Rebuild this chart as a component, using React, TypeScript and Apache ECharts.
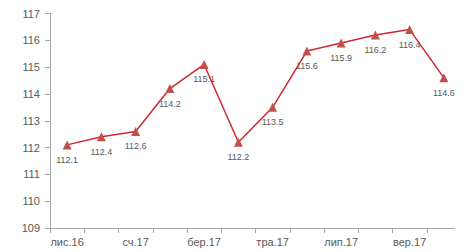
import React, { useEffect, useRef } from "react";
import * as echarts from "echarts";

const categories = ["лис.16", "гру.16", "сч.17", "лют.17", "бер.17", "кві.17", "тра.17", "чер.17", "лип.17", "сер.17", "вер.17", "жов.17"];
const values = [112.1, 112.4, 112.6, 114.2, 115.1, 112.2, 113.5, 115.6, 115.9, 116.2, 116.4, 114.6];

export default function App() {
  const ref = useRef<HTMLDivElement>(null);
  useEffect(() => {
    const chart = echarts.init(ref.current!, null, { renderer: "svg" });
    chart.setOption({
      animation: false,
      grid: { left: 42, right: 2, top: 5, bottom: 24 },
      xAxis: {
        type: "category",
        data: categories,
        boundaryGap: true,
        axisLine: { lineStyle: { color: "#a6a6a6" } },
        axisTick: { show: true, interval: 0, length: 5, lineStyle: { color: "#a6a6a6" } },
        axisLabel: { interval: 1, color: "#595959", fontSize: 11, fontFamily: "Liberation Sans", margin: 8 },
      },
      yAxis: {
        type: "value",
        min: 109,
        max: 117,
        interval: 1,
        splitLine: { show: false },
        axisLine: { show: true, lineStyle: { color: "#a6a6a6" } },
        axisTick: { show: true, length: 5, inside: false, lineStyle: { color: "#a6a6a6" } },
        axisLabel: { color: "#595959", fontSize: 11, fontFamily: "Liberation Sans", margin: 10 },
      },
      series: [
        {
          type: "line",
          data: values,
          symbol: "triangle",
          symbolSize: 9,
          lineStyle: { color: "#d3262e", width: 1.5 },
          itemStyle: { color: "#c0504d" },
          label: {
            show: true,
            position: "bottom",
            distance: 6,
            color: "#595959",
            fontSize: 9,
            fontFamily: "Liberation Sans",
          },
        },
      ],
    });
    return () => chart.dispose();
  }, []);
  return <div ref={ref} style={{ width: 455, height: 244 }} />;
}
